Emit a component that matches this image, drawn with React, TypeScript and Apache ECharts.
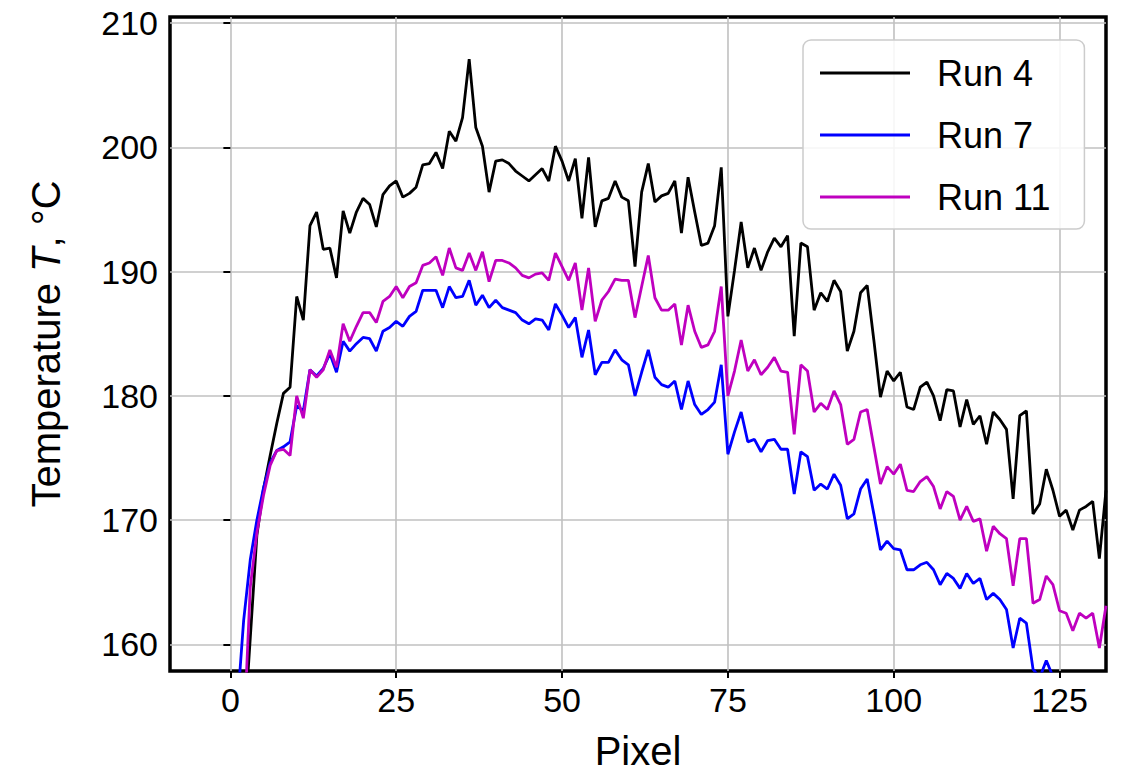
import React, { useEffect, useRef } from "react";
import * as echarts from "echarts";

// Temperature profiles along the pixel line (°C)
const run4 = [
  130, 140, 152.3, 160.5, 168.8, 172.5, 175.2, 177.8, 180.2, 180.7,
  188.0, 186.1, 193.7, 194.8, 191.8, 191.9, 189.5, 194.9, 193.1, 194.8,
  195.9, 195.4, 193.6, 196.2, 196.9, 197.3, 196.0, 196.3, 196.8, 198.6,
  198.7, 199.6, 198.3, 201.3, 200.5, 202.4, 207.1, 201.6, 200.1, 196.4,
  198.9, 199.0, 198.7, 198.1, 197.7, 197.3, 197.8, 198.3, 197.3, 200.1,
  198.9, 197.3, 199.1, 194.3, 199.2, 193.6, 195.7, 195.9, 197.3, 196.0,
  195.7, 190.4, 196.4, 198.7, 195.6, 196.1, 196.3, 197.3, 193.1, 197.6,
  194.8, 192.1, 192.3, 193.7, 198.4, 186.4, 190.1, 194.0, 190.3, 191.9,
  190.1, 191.6, 192.7, 192.0, 192.9, 184.8, 192.3, 192.0, 186.9, 188.3,
  187.6, 189.3, 188.4, 183.6, 185.2, 188.3, 188.9, 184.5, 179.9, 182.0,
  181.2, 181.9, 179.1, 178.9, 180.7, 181.1, 180.0, 178.0, 180.5, 180.4,
  177.5, 179.7, 177.7, 178.4, 176.1, 178.7, 178.1, 177.3, 171.7, 178.4,
  178.8, 170.5, 171.3, 174.1, 172.4, 170.3, 170.8, 169.2, 170.8, 171.1,
  171.5, 166.9, 172.4,
];
const run7 = [
  140, 154.6, 161.9, 166.8, 170.0, 172.6, 174.6, 175.6, 175.9, 176.3,
  179.2, 178.8, 182.1, 181.6, 182.2, 183.4, 181.9, 184.4, 183.6, 184.2,
  184.7, 184.6, 183.6, 185.2, 185.5, 186.0, 185.6, 186.4, 186.8, 188.5,
  188.5, 188.5, 187.1, 188.8, 187.9, 188.0, 189.3, 187.3, 188.1, 187.1,
  187.7, 187.1, 186.9, 186.7, 186.1, 185.8, 186.2, 186.1, 185.3, 187.4,
  186.5, 185.5, 186.3, 183.1, 185.3, 181.7, 182.7, 182.7, 183.7, 182.9,
  182.5, 180.0, 181.9, 183.7, 181.5, 180.9, 180.7, 181.2, 178.9, 181.2,
  179.3, 178.5, 178.9, 179.5, 182.5, 175.3, 177.1, 178.7, 176.3, 176.5,
  175.5, 176.4, 176.5, 175.7, 175.7, 172.1, 175.5, 175.1, 172.4, 172.9,
  172.5, 173.7, 172.8, 170.1, 170.5, 172.5, 173.3, 170.5, 167.6, 168.3,
  167.7, 167.6, 166.0, 166.0, 166.4, 166.6, 166.0, 164.8, 165.7, 165.3,
  164.5, 165.7, 164.9, 165.3, 163.6, 164.1, 163.6, 162.8, 159.7, 162.1,
  161.7, 158.0, 157.3, 158.7, 157.4, 156.5, 156.8, 155.6, 156.2, 155.9,
  155.4, 154.0, 155.8,
];
const run11 = [
  125, 140, 152.4, 164.6, 169.0, 172.0, 174.4, 175.6, 175.7, 175.2,
  180.0, 178.2, 182.1, 181.5, 182.1, 183.7, 182.3, 185.8, 184.4, 185.6,
  186.7, 186.7, 185.9, 187.6, 188.0, 188.8, 187.9, 188.8, 189.1, 190.5,
  190.7, 191.2, 189.7, 191.9, 190.3, 190.1, 191.5, 190.1, 191.6, 189.2,
  190.9, 190.9, 190.7, 190.3, 189.7, 189.5, 189.8, 189.9, 189.3, 191.5,
  190.4, 189.3, 190.7, 186.9, 190.3, 186.0, 187.7, 188.4, 189.4, 189.3,
  189.3, 186.3, 188.8, 191.3, 187.9, 186.9, 186.9, 187.4, 184.1, 187.3,
  185.2, 183.9, 184.1, 185.2, 188.8, 180.0, 182.0, 184.5, 182.0, 182.9,
  181.7, 182.3, 183.1, 182.0, 181.9, 176.9, 182.5, 182.0, 178.7, 179.4,
  178.9, 180.4, 179.3, 176.1, 176.5, 178.7, 178.9, 175.9, 172.9, 174.3,
  173.7, 174.5, 172.4, 172.3, 173.1, 173.5, 172.7, 170.9, 172.3, 171.9,
  170.0, 171.1, 169.9, 170.1, 167.5, 169.5, 168.9, 168.5, 164.7, 168.5,
  168.5, 163.3, 163.6, 165.5, 164.8, 162.7, 162.5, 161.1, 162.5, 162.1,
  162.5, 159.7, 163.1,
];
const seriesNames = ["Run 4", "Run 7", "Run 11"];
const seriesColors = ["#000000", "#0000ff", "#bf00bf"];
const xTicks = [0, 25, 50, 75, 100, 125];
const yTicks = [160, 170, 180, 190, 200, 210];

const FONT = "'Liberation Sans', Arial, Helvetica, sans-serif";

export default function App() {
  const ref = useRef<HTMLDivElement>(null);
  useEffect(() => {
    if (!ref.current) return;
    const chart = echarts.init(ref.current, null, { renderer: "svg" });
    const all = [run4, run7, run11];
    const series: any[] = all.map((vals, k) => ({
      name: seriesNames[k],
      type: "line",
      data: vals.map((v, i) => [i, v]),
      showSymbol: false,
      symbol: "none",
      clip: true,
      z: 3,
      lineStyle: { color: seriesColors[k], width: 2.8 },
      itemStyle: { color: seriesColors[k] },
    }));
    chart.setOption({
      animation: false,
      backgroundColor: "#ffffff",
      textStyle: { fontFamily: FONT },
      grid: {
        left: 170,
        top: 17,
        right: 15,
        bottom: 101,
        show: true,
        borderColor: "#000",
        borderWidth: 3.5,
        backgroundColor: "#fff",
        z: 0,
      },
      legend: {
        data: seriesNames,
        orient: "vertical",
        left: 803,
        top: 40,
        padding: [13, 34, 12, 17],
        icon: "rect",
        itemWidth: 90,
        itemHeight: 3,
        itemGap: 22,
        borderColor: "#cccccc",
        borderWidth: 1.5,
        borderRadius: 8,
        backgroundColor: "rgba(255,255,255,0.85)",
        textStyle: {
          fontFamily: FONT,
          fontSize: 36,
          color: "#000",
          lineHeight: 40,
          padding: [0, 0, 0, 22],
        },
      },
      xAxis: {
        type: "value",
        min: -9.1,
        max: 132,
        axisLine: { show: false },
        axisTick: {
          show: true,
          customValues: xTicks,
          length: 7,
          lineStyle: { color: "#000", width: 2 },
        },
        axisLabel: {
          customValues: xTicks,
          fontSize: 34,
          color: "#000",
          margin: 12,
          fontFamily: FONT,
        },
        splitLine: { show: true, lineStyle: { color: "#c0c0c0", width: 1.6 } },
        name: "Pixel",
        nameLocation: "middle",
        nameGap: 60,
        nameTextStyle: { fontSize: 40, color: "#000", fontFamily: FONT },
      },
      yAxis: {
        type: "value",
        min: 157.85,
        max: 210.5,
        axisLine: { show: false },
        axisTick: {
          show: true,
          customValues: yTicks,
          length: 7,
          lineStyle: { color: "#000", width: 2 },
        },
        axisLabel: {
          customValues: yTicks,
          fontSize: 34,
          color: "#000",
          margin: 12,
          fontFamily: FONT,
        },
        splitLine: { show: true, lineStyle: { color: "#c0c0c0", width: 1.6 } },
        name: "{a|Temperature }{i|T}{a|, °C}",
        nameLocation: "middle",
        nameGap: 104,
        nameTextStyle: {
          fontSize: 40,
          color: "#000",
          fontFamily: FONT,
          rich: {
            a: { fontSize: 40, color: "#000", fontFamily: FONT },
            i: { fontSize: 40, color: "#000", fontFamily: FONT, fontStyle: "italic" },
          },
        },
      },
      series,
    });
    return () => chart.dispose();
  }, []);
  return (
    <div
      ref={ref}
      style={{ position: "absolute", left: 0, top: 0, width: 1121, height: 776 }}
    />
  );
}
